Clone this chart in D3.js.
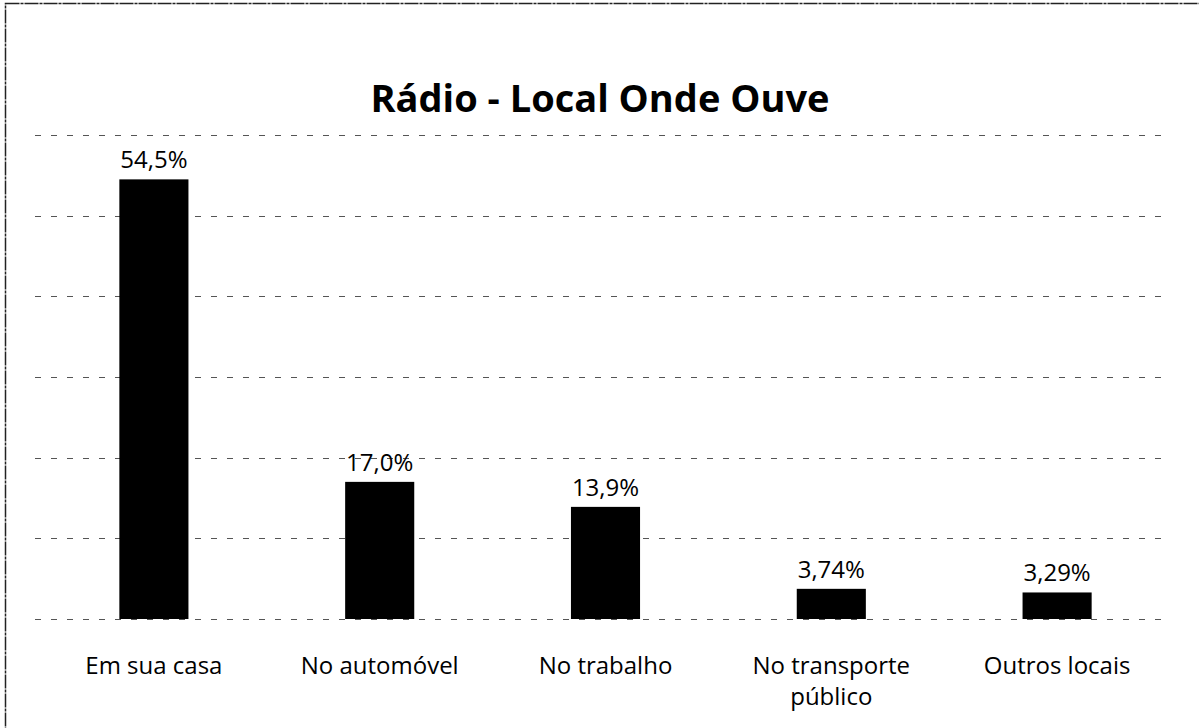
<!DOCTYPE html>
<html><head><meta charset="utf-8">
<script src="https://cdn.jsdelivr.net/npm/d3@7"></script>
<style>body{margin:0;background:#fff}svg{display:block}</style>
</head><body><svg id="c" width="1199" height="728"></svg>
<script>
const categories = ["Em sua casa", "No automóvel", "No trabalho", "No transporte público", "Outros locais"];
const categoryLines = [["Em sua casa"], ["No automóvel"], ["No trabalho"], ["No transporte", "público"], ["Outros locais"]];
const values = [54.5, 17.0, 13.9, 3.74, 3.29];
const valueLabels = ["54,5%", "17,0%", "13,9%", "3,74%", "3,29%"];
const gridTicks = [0, 10, 20, 30, 40, 50, 60];
const title = "Rádio - Local Onde Ouve";

const W = 1199, H = 728;
const svg = d3.select("#c");
const font = "'Open Sans', 'Liberation Sans', sans-serif";

// outer border
svg.append("rect").attr("x", 5.5).attr("y", 3.5).attr("width", W + 20).attr("height", H + 20)
  .attr("fill", "none").attr("stroke", "#222").attr("stroke-width", 1.5).attr("stroke-dasharray", "14,1,3,1");

const x = d3.scaleBand().domain(categories).range([41, 1170]).paddingInner(0.694).paddingOuter(0.347);
const y = d3.scaleLinear().domain([0, 60]).range([619, 135]);

// gridlines
const grid = svg.append("g");
grid.selectAll("line").data(gridTicks).join("line")
  .attr("x1", 35).attr("x2", 1170)
  .attr("y1", d => Math.round(y(d)) + 0.5).attr("y2", d => Math.round(y(d)) + 0.5)
  .attr("stroke", "#555").attr("stroke-width", 1.2).attr("stroke-dasharray", "6,10");

// bars
svg.append("g").selectAll("rect").data(values).join("rect")
  .attr("x", (d, i) => x(categories[i]))
  .attr("width", x.bandwidth())
  .attr("y", d => y(d))
  .attr("height", d => y(0) - y(d))
  .attr("fill", "#000");

// value labels
svg.append("g").selectAll("text").data(values).join("text")
  .attr("x", (d, i) => x(categories[i]) + x.bandwidth() / 2)
  .attr("y", d => y(d) - 11)
  .attr("text-anchor", "middle")
  .attr("font-family", font).attr("font-size", 24).attr("fill", "#000")
  .text((d, i) => valueLabels[i]);

// category labels
const cl = svg.append("g").selectAll("text").data(categoryLines).join("text")
  .attr("x", (d, i) => x(categories[i]) + x.bandwidth() / 2)
  .attr("y", 674)
  .attr("text-anchor", "middle")
  .attr("font-family", font).attr("font-size", 24).attr("fill", "#000");
cl.each(function(lines, i) {
  const t = d3.select(this);
  lines.forEach((s, j) => {
    t.append("tspan").attr("x", x(categories[i]) + x.bandwidth() / 2).attr("dy", j === 0 ? 0 : 31).text(s);
  });
});

// title
svg.append("text").attr("x", 600).attr("y", 112).attr("text-anchor", "middle")
  .attr("font-family", font).attr("font-weight", "bold").attr("font-size", 38).attr("fill", "#000")
  .text(title);
</script></body></html>
